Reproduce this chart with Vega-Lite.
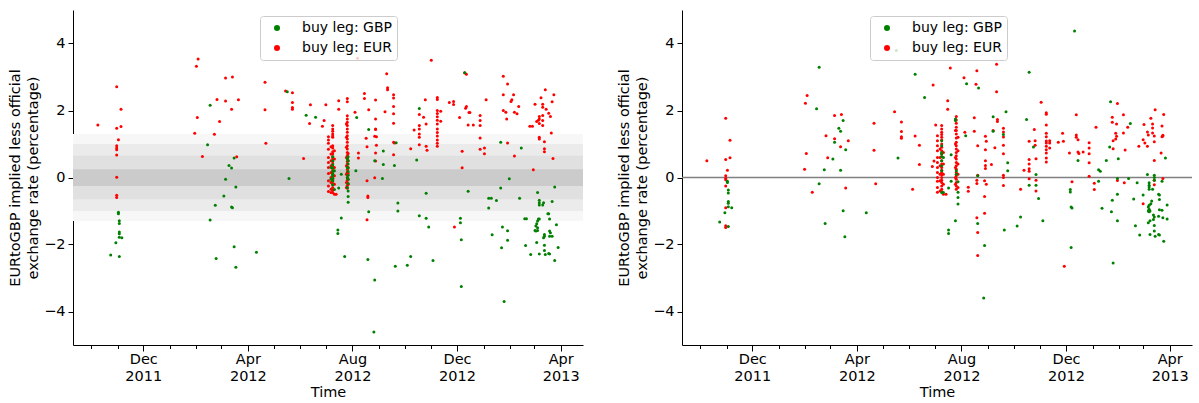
{
"$schema": "https://vega.github.io/schema/vega-lite/v6.json",
"padding": {"left": 7, "top": 10, "right": 4, "bottom": 0},
"background": "white",
"spacing": 33,
"config": {
  "view": {"stroke": null},
  "font": "DejaVu Sans",
  "axis": {"domainColor": "black", "tickColor": "black", "labelColor": "black", "titleColor": "black", "labelFontSize": 14.5, "titleFontSize": 14.5, "titleFontWeight": "normal", "labelFont": "DejaVu Sans", "titleFont": "DejaVu Sans", "domainWidth": 1, "tickWidth": 1, "grid": false},
  "legend": {"padding": 5, "symbolOffset": 5, "labelOffset": 18, "rowPadding": 6, "labelFontSize": 14, "labelFont": "DejaVu Sans", "labelColor": "black", "strokeColor": "#cccccc", "fillColor": "rgba(255,255,255,0.8)", "cornerRadius": 3, "symbolSize": 36, "symbolType": "circle", "symbolStrokeWidth": 0}
},
"resolve": {"scale": {"color": "independent"}, "legend": {"color": "independent"}},
"datasets": {
"left": [
{"t":"2011-10-09","v":1.57,"leg":"EUR"},{"t":"2011-10-31","v":2.71,"leg":"EUR"},{"t":"2011-11-05","v":2.04,"leg":"EUR"},{"t":"2011-10-31","v":1.47,"leg":"EUR"},{"t":"2011-11-05","v":1.52,"leg":"EUR"},{"t":"2011-11-02","v":1.13,"leg":"EUR"},{"t":"2011-10-31","v":0.95,"leg":"EUR"},{"t":"2011-10-31","v":0.88,"leg":"EUR"},{"t":"2011-10-31","v":0.83,"leg":"EUR"},{"t":"2011-10-31","v":0.67,"leg":"EUR"},{"t":"2011-10-31","v":0.01,"leg":"EUR"},{"t":"2011-10-31","v":-0.53,"leg":"EUR"},{"t":"2011-10-31","v":-0.6,"leg":"EUR"},
{"t":"2012-01-30","v":1.32,"leg":"EUR"},{"t":"2012-02-01","v":3.32,"leg":"EUR"},{"t":"2012-02-03","v":3.54,"leg":"EUR"},{"t":"2012-02-02","v":1.79,"leg":"EUR"},{"t":"2012-02-08","v":0.63,"leg":"EUR"},{"t":"2012-02-28","v":1.67,"leg":"EUR"},{"t":"2012-02-22","v":1.29,"leg":"EUR"},{"t":"2012-02-25","v":2.33,"leg":"EUR"},{"t":"2012-03-06","v":2.97,"leg":"EUR"},{"t":"2012-03-14","v":3.0,"leg":"EUR"},{"t":"2012-03-06","v":2.28,"leg":"EUR"},{"t":"2012-03-13","v":2.04,"leg":"EUR"},{"t":"2012-03-21","v":2.32,"leg":"EUR"},{"t":"2012-03-19","v":0.62,"leg":"EUR"},{"t":"2012-04-21","v":2.84,"leg":"EUR"},{"t":"2012-04-21","v":2.02,"leg":"EUR"},{"t":"2012-04-22","v":1.02,"leg":"EUR"},
{"t":"2012-05-15","v":2.58,"leg":"EUR"},{"t":"2012-05-23","v":2.53,"leg":"EUR"},{"t":"2012-05-23","v":2.24,"leg":"EUR"},{"t":"2012-05-23","v":2.09,"leg":"EUR"},{"t":"2012-05-23","v":2.04,"leg":"EUR"},{"t":"2012-06-13","v":2.17,"leg":"EUR"},{"t":"2012-06-12","v":1.61,"leg":"EUR"},{"t":"2012-06-05","v":0.57,"leg":"EUR"},{"t":"2012-07-01","v":2.17,"leg":"EUR"},{"t":"2012-06-29","v":1.7,"leg":"EUR"},{"t":"2012-06-27","v":1.53,"leg":"EUR"},
{"t":"2012-07-04","v":1.22,"leg":"EUR"},{"t":"2012-07-04","v":1.12,"leg":"EUR"},{"t":"2012-07-04","v":1.02,"leg":"EUR"},{"t":"2012-07-04","v":0.84,"leg":"EUR"},{"t":"2012-07-04","v":0.6,"leg":"EUR"},{"t":"2012-07-04","v":0.45,"leg":"EUR"},{"t":"2012-07-04","v":0.3,"leg":"EUR"},{"t":"2012-07-04","v":0.12,"leg":"EUR"},{"t":"2012-07-04","v":-0.1,"leg":"EUR"},{"t":"2012-07-04","v":-0.25,"leg":"EUR"},{"t":"2012-07-04","v":-0.42,"leg":"EUR"},
{"t":"2012-07-09","v":1.55,"leg":"EUR"},{"t":"2012-07-09","v":1.45,"leg":"EUR"},{"t":"2012-07-09","v":1.38,"leg":"EUR"},{"t":"2012-07-09","v":1.3,"leg":"EUR"},{"t":"2012-07-09","v":1.24,"leg":"EUR"},{"t":"2012-07-09","v":1.2,"leg":"EUR"},{"t":"2012-07-09","v":0.95,"leg":"EUR"},{"t":"2012-07-09","v":0.88,"leg":"EUR"},{"t":"2012-07-09","v":0.77,"leg":"EUR"},{"t":"2012-07-09","v":0.7,"leg":"EUR"},{"t":"2012-07-09","v":0.62,"leg":"EUR"},{"t":"2012-07-09","v":0.55,"leg":"EUR"},{"t":"2012-07-09","v":0.48,"leg":"EUR"},{"t":"2012-07-09","v":0.4,"leg":"EUR"},{"t":"2012-07-09","v":0.33,"leg":"EUR"},{"t":"2012-07-09","v":0.27,"leg":"EUR"},{"t":"2012-07-09","v":0.2,"leg":"EUR"},{"t":"2012-07-09","v":0.14,"leg":"EUR"},{"t":"2012-07-09","v":0.08,"leg":"EUR"},{"t":"2012-07-09","v":0.02,"leg":"EUR"},{"t":"2012-07-09","v":-0.05,"leg":"EUR"},{"t":"2012-07-09","v":-0.12,"leg":"EUR"},{"t":"2012-07-09","v":-0.2,"leg":"EUR"},{"t":"2012-07-09","v":-0.3,"leg":"EUR"},{"t":"2012-07-09","v":-0.38,"leg":"EUR"},{"t":"2012-07-09","v":-0.45,"leg":"EUR"},
{"t":"2012-07-07","v":0.92,"leg":"EUR"},{"t":"2012-07-07","v":0.7,"leg":"EUR"},{"t":"2012-07-07","v":0.5,"leg":"EUR"},{"t":"2012-07-07","v":0.35,"leg":"EUR"},{"t":"2012-07-07","v":0.15,"leg":"EUR"},{"t":"2012-07-07","v":0.0,"leg":"EUR"},{"t":"2012-07-07","v":-0.15,"leg":"EUR"},{"t":"2012-07-07","v":-0.35,"leg":"EUR"},{"t":"2012-07-07","v":-0.45,"leg":"EUR"},
{"t":"2012-07-11","v":0.8,"leg":"EUR"},{"t":"2012-07-11","v":0.55,"leg":"EUR"},{"t":"2012-07-11","v":0.3,"leg":"EUR"},{"t":"2012-07-11","v":0.05,"leg":"EUR"},{"t":"2012-07-11","v":-0.2,"leg":"EUR"},{"t":"2012-07-11","v":-0.5,"leg":"EUR"},{"t":"2012-07-13","v":-0.5,"leg":"EUR"},{"t":"2012-07-16","v":2.29,"leg":"EUR"},{"t":"2012-07-16","v":2.04,"leg":"EUR"},
{"t":"2012-07-26","v":2.36,"leg":"EUR"},{"t":"2012-07-26","v":2.26,"leg":"EUR"},{"t":"2012-07-26","v":1.84,"leg":"EUR"},{"t":"2012-07-26","v":1.75,"leg":"EUR"},{"t":"2012-07-26","v":1.65,"leg":"EUR"},{"t":"2012-07-26","v":1.55,"leg":"EUR"},{"t":"2012-07-26","v":1.45,"leg":"EUR"},{"t":"2012-07-26","v":1.35,"leg":"EUR"},{"t":"2012-07-26","v":1.25,"leg":"EUR"},{"t":"2012-07-26","v":1.15,"leg":"EUR"},{"t":"2012-07-26","v":1.05,"leg":"EUR"},{"t":"2012-07-26","v":0.95,"leg":"EUR"},{"t":"2012-07-26","v":0.85,"leg":"EUR"},{"t":"2012-07-26","v":0.75,"leg":"EUR"},{"t":"2012-07-26","v":0.66,"leg":"EUR"},{"t":"2012-07-26","v":0.57,"leg":"EUR"},{"t":"2012-07-26","v":0.48,"leg":"EUR"},{"t":"2012-07-26","v":0.4,"leg":"EUR"},{"t":"2012-07-26","v":0.32,"leg":"EUR"},{"t":"2012-07-26","v":0.24,"leg":"EUR"},{"t":"2012-07-26","v":0.16,"leg":"EUR"},{"t":"2012-07-26","v":0.08,"leg":"EUR"},{"t":"2012-07-26","v":0.0,"leg":"EUR"},{"t":"2012-07-26","v":-0.08,"leg":"EUR"},{"t":"2012-07-26","v":-0.16,"leg":"EUR"},{"t":"2012-07-26","v":-0.24,"leg":"EUR"},{"t":"2012-07-26","v":-0.32,"leg":"EUR"},
{"t":"2012-07-25","v":1.6,"leg":"EUR"},{"t":"2012-07-25","v":1.2,"leg":"EUR"},{"t":"2012-07-25","v":0.9,"leg":"EUR"},{"t":"2012-07-25","v":0.6,"leg":"EUR"},{"t":"2012-07-25","v":0.35,"leg":"EUR"},{"t":"2012-07-25","v":0.1,"leg":"EUR"},{"t":"2012-07-25","v":-0.15,"leg":"EUR"},{"t":"2012-07-25","v":-0.3,"leg":"EUR"},
{"t":"2012-07-27","v":0.72,"leg":"EUR"},{"t":"2012-07-27","v":0.5,"leg":"EUR"},{"t":"2012-07-27","v":0.3,"leg":"EUR"},{"t":"2012-07-27","v":0.12,"leg":"EUR"},{"t":"2012-07-27","v":-0.05,"leg":"EUR"},{"t":"2012-07-27","v":-0.2,"leg":"EUR"},
{"t":"2012-08-04","v":1.95,"leg":"EUR"},{"t":"2012-08-07","v":3.56,"leg":"EUR"},{"t":"2012-08-15","v":2.51,"leg":"EUR"},{"t":"2012-08-15","v":2.36,"leg":"EUR"},{"t":"2012-08-20","v":2.02,"leg":"EUR"},{"t":"2012-08-28","v":2.31,"leg":"EUR"},{"t":"2012-08-28","v":1.75,"leg":"EUR"},{"t":"2012-08-28","v":1.45,"leg":"EUR"},{"t":"2012-08-28","v":1.43,"leg":"EUR"},{"t":"2012-08-28","v":0.73,"leg":"EUR"},{"t":"2012-08-28","v":0.49,"leg":"EUR"},{"t":"2012-08-27","v":1.23,"leg":"EUR"},{"t":"2012-08-27","v":-0.01,"leg":"EUR"},{"t":"2012-08-17","v":1.17,"leg":"EUR"},{"t":"2012-08-18","v":0.92,"leg":"EUR"},{"t":"2012-08-18","v":-0.1,"leg":"EUR"},{"t":"2012-08-18","v":-1.26,"leg":"EUR"},{"t":"2012-08-08","v":0.73,"leg":"EUR"},{"t":"2012-08-08","v":0.58,"leg":"EUR"},{"t":"2012-08-19","v":-0.55,"leg":"EUR"},{"t":"2012-08-19","v":-0.6,"leg":"EUR"},{"t":"2012-08-29","v":1.22,"leg":"EUR"},{"t":"2012-08-29","v":0.96,"leg":"EUR"},
{"t":"2012-09-10","v":3.1,"leg":"EUR"},{"t":"2012-09-11","v":2.68,"leg":"EUR"},{"t":"2012-09-11","v":2.62,"leg":"EUR"},{"t":"2012-09-08","v":1.96,"leg":"EUR"},{"t":"2012-09-18","v":2.47,"leg":"EUR"},{"t":"2012-09-18","v":2.37,"leg":"EUR"},{"t":"2012-09-18","v":2.12,"leg":"EUR"},{"t":"2012-09-18","v":1.9,"leg":"EUR"},{"t":"2012-09-18","v":1.62,"leg":"EUR"},{"t":"2012-09-18","v":1.05,"leg":"EUR"},{"t":"2012-09-18","v":0.68,"leg":"EUR"},{"t":"2012-09-19","v":1.03,"leg":"EUR"},
{"t":"2012-10-08","v":0.86,"leg":"EUR"},{"t":"2012-10-12","v":1.42,"leg":"EUR"},{"t":"2012-10-18","v":1.55,"leg":"EUR"},{"t":"2012-10-18","v":1.45,"leg":"EUR"},{"t":"2012-10-18","v":1.3,"leg":"EUR"},{"t":"2012-10-18","v":1.2,"leg":"EUR"},{"t":"2012-10-18","v":0.98,"leg":"EUR"},{"t":"2012-10-18","v":1.88,"leg":"EUR"},{"t":"2012-10-25","v":2.32,"leg":"EUR"},{"t":"2012-10-23","v":1.8,"leg":"EUR"},{"t":"2012-10-26","v":1.6,"leg":"EUR"},{"t":"2012-10-26","v":0.93,"leg":"EUR"},{"t":"2012-10-27","v":0.81,"leg":"EUR"},
{"t":"2012-11-01","v":3.5,"leg":"EUR"},{"t":"2012-11-08","v":2.39,"leg":"EUR"},{"t":"2012-11-08","v":2.33,"leg":"EUR"},{"t":"2012-11-08","v":2.0,"leg":"EUR"},{"t":"2012-11-08","v":1.91,"leg":"EUR"},{"t":"2012-11-08","v":1.81,"leg":"EUR"},{"t":"2012-11-08","v":1.71,"leg":"EUR"},{"t":"2012-11-08","v":1.6,"leg":"EUR"},{"t":"2012-11-08","v":1.45,"leg":"EUR"},{"t":"2012-11-08","v":1.34,"leg":"EUR"},{"t":"2012-11-08","v":1.24,"leg":"EUR"},{"t":"2012-11-08","v":1.12,"leg":"EUR"},{"t":"2012-11-08","v":1.02,"leg":"EUR"},{"t":"2012-11-08","v":0.93,"leg":"EUR"},{"t":"2012-11-12","v":1.98,"leg":"EUR"},{"t":"2012-11-12","v":1.68,"leg":"EUR"},{"t":"2012-11-22","v":2.24,"leg":"EUR"},{"t":"2012-11-27","v":2.27,"leg":"EUR"},{"t":"2012-11-27","v":2.18,"leg":"EUR"},{"t":"2012-11-28","v":-1.48,"leg":"EUR"},
{"t":"2012-12-04","v":1.79,"leg":"EUR"},{"t":"2012-12-07","v":0.78,"leg":"EUR"},{"t":"2012-12-07","v":0.29,"leg":"EUR"},{"t":"2012-12-10","v":3.13,"leg":"EUR"},{"t":"2012-12-12","v":3.08,"leg":"EUR"},{"t":"2012-12-12","v":2.12,"leg":"EUR"},{"t":"2012-12-11","v":2.07,"leg":"EUR"},{"t":"2012-12-15","v":1.94,"leg":"EUR"},{"t":"2012-12-16","v":1.94,"leg":"EUR"},{"t":"2012-12-14","v":1.57,"leg":"EUR"},{"t":"2012-12-20","v":1.57,"leg":"EUR"},{"t":"2012-12-28","v":1.85,"leg":"EUR"},{"t":"2012-12-28","v":1.7,"leg":"EUR"},{"t":"2012-12-28","v":1.55,"leg":"EUR"},{"t":"2012-12-28","v":1.18,"leg":"EUR"},{"t":"2012-12-28","v":0.84,"leg":"EUR"},
{"t":"2013-01-02","v":0.88,"leg":"EUR"},{"t":"2013-01-02","v":0.71,"leg":"EUR"},{"t":"2013-01-04","v":2.32,"leg":"EUR"},{"t":"2013-01-24","v":3.02,"leg":"EUR"},{"t":"2013-01-24","v":2.47,"leg":"EUR"},{"t":"2013-01-24","v":2.0,"leg":"EUR"},{"t":"2013-01-29","v":2.79,"leg":"EUR"},{"t":"2013-01-29","v":1.03,"leg":"EUR"},{"t":"2013-02-02","v":2.27,"leg":"EUR"},{"t":"2013-02-03","v":2.32,"leg":"EUR"},{"t":"2013-02-05","v":2.47,"leg":"EUR"},{"t":"2013-01-27","v":1.95,"leg":"EUR"},{"t":"2013-01-28","v":1.75,"leg":"EUR"},{"t":"2013-02-11","v":2.12,"leg":"EUR"},{"t":"2013-02-06","v":1.95,"leg":"EUR"},{"t":"2013-02-06","v":0.64,"leg":"EUR"},{"t":"2013-02-09","v":1.9,"leg":"EUR"},{"t":"2013-02-28","v":0.23,"leg":"EUR"},{"t":"2013-02-24","v":1.53,"leg":"EUR"},
{"t":"2013-03-02","v":2.19,"leg":"EUR"},{"t":"2013-03-09","v":2.38,"leg":"EUR"},{"t":"2013-03-14","v":2.62,"leg":"EUR"},{"t":"2013-03-11","v":2.19,"leg":"EUR"},{"t":"2013-03-11","v":2.1,"leg":"EUR"},{"t":"2013-03-11","v":1.7,"leg":"EUR"},{"t":"2013-03-11","v":1.55,"leg":"EUR"},{"t":"2013-03-11","v":1.85,"leg":"EUR"},{"t":"2013-03-15","v":2.04,"leg":"EUR"},{"t":"2013-03-18","v":1.92,"leg":"EUR"},{"t":"2013-03-24","v":2.47,"leg":"EUR"},{"t":"2013-03-22","v":2.26,"leg":"EUR"},{"t":"2013-03-20","v":1.82,"leg":"EUR"},{"t":"2013-03-07","v":1.82,"leg":"EUR"},{"t":"2013-03-07","v":1.75,"leg":"EUR"},{"t":"2013-03-07","v":1.61,"leg":"EUR"},{"t":"2013-03-07","v":1.2,"leg":"EUR"},{"t":"2013-03-07","v":1.15,"leg":"EUR"},{"t":"2013-03-06","v":1.71,"leg":"EUR"},{"t":"2013-03-04","v":1.67,"leg":"EUR"},{"t":"2013-02-27","v":1.53,"leg":"EUR"},{"t":"2013-03-21","v":1.33,"leg":"EUR"},{"t":"2013-03-13","v":1.07,"leg":"EUR"},{"t":"2013-03-13","v":0.86,"leg":"EUR"},{"t":"2013-03-13","v":0.77,"leg":"EUR"},{"t":"2013-03-23","v":0.57,"leg":"EUR"},
{"t":"2011-11-02","v":-1.04,"leg":"GBP"},{"t":"2011-11-02","v":-1.08,"leg":"GBP"},{"t":"2011-11-03","v":-1.29,"leg":"GBP"},{"t":"2011-11-03","v":-1.37,"leg":"GBP"},{"t":"2011-11-03","v":-1.63,"leg":"GBP"},{"t":"2011-11-03","v":-1.68,"leg":"GBP"},{"t":"2011-11-03","v":-1.78,"leg":"GBP"},{"t":"2011-11-06","v":-1.8,"leg":"GBP"},{"t":"2011-10-30","v":-1.95,"leg":"GBP"},{"t":"2011-10-24","v":-2.31,"leg":"GBP"},{"t":"2011-11-03","v":-2.36,"leg":"GBP"},
{"t":"2012-02-17","v":2.16,"leg":"GBP"},{"t":"2012-02-14","v":0.98,"leg":"GBP"},{"t":"2012-03-10","v":0.36,"leg":"GBP"},{"t":"2012-03-13","v":0.28,"leg":"GBP"},{"t":"2012-03-16","v":0.58,"leg":"GBP"},{"t":"2012-03-06","v":-0.05,"leg":"GBP"},{"t":"2012-03-18","v":-0.28,"leg":"GBP"},{"t":"2012-03-04","v":-0.55,"leg":"GBP"},{"t":"2012-02-23","v":-0.83,"leg":"GBP"},{"t":"2012-03-13","v":-0.88,"leg":"GBP"},{"t":"2012-03-14","v":-0.9,"leg":"GBP"},{"t":"2012-02-17","v":-1.27,"leg":"GBP"},{"t":"2012-03-16","v":-2.07,"leg":"GBP"},{"t":"2012-02-24","v":-2.42,"leg":"GBP"},{"t":"2012-03-18","v":-2.68,"leg":"GBP"},{"t":"2012-04-11","v":-2.23,"leg":"GBP"},
{"t":"2012-05-17","v":2.56,"leg":"GBP"},{"t":"2012-05-19","v":-0.03,"leg":"GBP"},{"t":"2012-06-08","v":1.86,"leg":"GBP"},{"t":"2012-06-19","v":1.8,"leg":"GBP"},
{"t":"2012-07-09","v":0.62,"leg":"GBP"},{"t":"2012-07-09","v":0.5,"leg":"GBP"},{"t":"2012-07-09","v":0.38,"leg":"GBP"},{"t":"2012-07-09","v":0.28,"leg":"GBP"},{"t":"2012-07-09","v":0.18,"leg":"GBP"},{"t":"2012-07-09","v":0.1,"leg":"GBP"},{"t":"2012-07-09","v":0.05,"leg":"GBP"},{"t":"2012-07-09","v":-0.02,"leg":"GBP"},{"t":"2012-07-09","v":-0.1,"leg":"GBP"},{"t":"2012-07-09","v":-0.22,"leg":"GBP"},{"t":"2012-07-07","v":0.3,"leg":"GBP"},{"t":"2012-07-07","v":-0.05,"leg":"GBP"},{"t":"2012-07-11","v":0.2,"leg":"GBP"},{"t":"2012-07-11","v":-0.36,"leg":"GBP"},
{"t":"2012-07-16","v":-0.31,"leg":"GBP"},{"t":"2012-07-19","v":-1.21,"leg":"GBP"},{"t":"2012-07-19","v":0.1,"leg":"GBP"},{"t":"2012-07-15","v":-1.57,"leg":"GBP"},{"t":"2012-07-15","v":-1.67,"leg":"GBP"},{"t":"2012-07-23","v":-2.36,"leg":"GBP"},
{"t":"2012-07-27","v":0.62,"leg":"GBP"},{"t":"2012-07-27","v":0.5,"leg":"GBP"},{"t":"2012-07-27","v":0.4,"leg":"GBP"},{"t":"2012-07-27","v":0.28,"leg":"GBP"},{"t":"2012-07-27","v":0.18,"leg":"GBP"},{"t":"2012-07-27","v":0.07,"leg":"GBP"},{"t":"2012-07-27","v":-0.05,"leg":"GBP"},{"t":"2012-07-27","v":-0.18,"leg":"GBP"},{"t":"2012-07-27","v":-0.4,"leg":"GBP"},{"t":"2012-07-27","v":-0.57,"leg":"GBP"},{"t":"2012-07-27","v":-0.74,"leg":"GBP"},{"t":"2012-07-26","v":0.55,"leg":"GBP"},{"t":"2012-07-26","v":0.3,"leg":"GBP"},{"t":"2012-07-26","v":0.0,"leg":"GBP"},{"t":"2012-07-26","v":-0.3,"leg":"GBP"},
{"t":"2012-08-05","v":0.2,"leg":"GBP"},{"t":"2012-08-06","v":1.79,"leg":"GBP"},{"t":"2012-08-20","v":1.43,"leg":"GBP"},{"t":"2012-08-20","v":-1.02,"leg":"GBP"},{"t":"2012-09-06","v":0.79,"leg":"GBP"},{"t":"2012-09-06","v":0.39,"leg":"GBP"},{"t":"2012-08-27","v":0.5,"leg":"GBP"},{"t":"2012-08-27","v":-3.06,"leg":"GBP"},{"t":"2012-09-19","v":0.36,"leg":"GBP"},{"t":"2012-09-05","v":-0.03,"leg":"GBP"},{"t":"2012-09-21","v":1.04,"leg":"GBP"},{"t":"2012-10-15","v":0.52,"leg":"GBP"},{"t":"2012-10-18","v":2.06,"leg":"GBP"},{"t":"2012-10-18","v":-1.14,"leg":"GBP"},{"t":"2012-12-10","v":3.13,"leg":"GBP"},{"t":"2013-01-21","v":1.05,"leg":"GBP"},{"t":"2013-02-14","v":0.88,"leg":"GBP"},{"t":"2013-01-31","v":-0.04,"leg":"GBP"},
{"t":"2012-08-19","v":-2.45,"leg":"GBP"},{"t":"2012-08-26","v":-4.61,"leg":"GBP"},{"t":"2012-09-23","v":-0.76,"leg":"GBP"},{"t":"2012-09-23","v":-1.0,"leg":"GBP"},{"t":"2012-09-20","v":-2.65,"leg":"GBP"},{"t":"2012-10-04","v":-2.62,"leg":"GBP"},{"t":"2012-10-08","v":-2.36,"leg":"GBP"},{"t":"2012-10-26","v":-0.47,"leg":"GBP"},{"t":"2012-10-26","v":-1.22,"leg":"GBP"},{"t":"2012-10-29","v":-1.48,"leg":"GBP"},{"t":"2012-11-03","v":-2.48,"leg":"GBP"},{"t":"2012-12-14","v":-0.41,"leg":"GBP"},{"t":"2012-12-05","v":-1.22,"leg":"GBP"},{"t":"2012-12-05","v":-1.35,"leg":"GBP"},{"t":"2012-12-06","v":-1.86,"leg":"GBP"},{"t":"2012-12-06","v":-3.25,"leg":"GBP"},
{"t":"2013-01-07","v":-0.62,"leg":"GBP"},{"t":"2013-01-07","v":-0.91,"leg":"GBP"},{"t":"2013-01-10","v":-0.62,"leg":"GBP"},{"t":"2013-01-16","v":-0.69,"leg":"GBP"},{"t":"2013-01-21","v":-0.31,"leg":"GBP"},{"t":"2013-01-11","v":-1.71,"leg":"GBP"},{"t":"2013-01-23","v":-1.48,"leg":"GBP"},{"t":"2013-01-29","v":-1.59,"leg":"GBP"},{"t":"2013-01-29","v":-1.87,"leg":"GBP"},{"t":"2013-01-22","v":-2.1,"leg":"GBP"},{"t":"2013-01-25","v":-3.7,"leg":"GBP"},{"t":"2013-02-12","v":-0.62,"leg":"GBP"},{"t":"2013-02-19","v":-2.03,"leg":"GBP"},{"t":"2013-02-25","v":-2.3,"leg":"GBP"},{"t":"2013-02-18","v":-1.23,"leg":"GBP"},{"t":"2013-02-20","v":-1.23,"leg":"GBP"},{"t":"2013-03-05","v":-0.45,"leg":"GBP"},
{"t":"2013-03-07","v":-0.68,"leg":"GBP"},{"t":"2013-03-07","v":-0.75,"leg":"GBP"},{"t":"2013-03-07","v":-0.82,"leg":"GBP"},{"t":"2013-03-11","v":-0.82,"leg":"GBP"},{"t":"2013-03-12","v":-0.75,"leg":"GBP"},{"t":"2013-03-17","v":-1.08,"leg":"GBP"},{"t":"2013-03-18","v":-1.08,"leg":"GBP"},{"t":"2013-03-19","v":-1.24,"leg":"GBP"},{"t":"2013-03-07","v":-1.24,"leg":"GBP"},{"t":"2013-03-06","v":-1.24,"leg":"GBP"},{"t":"2013-03-05","v":-1.3,"leg":"GBP"},{"t":"2013-03-04","v":-1.38,"leg":"GBP"},{"t":"2013-03-03","v":-1.45,"leg":"GBP"},{"t":"2013-03-05","v":-1.5,"leg":"GBP"},{"t":"2013-03-02","v":-1.58,"leg":"GBP"},{"t":"2013-03-03","v":-1.6,"leg":"GBP"},{"t":"2013-03-05","v":-1.58,"leg":"GBP"},{"t":"2013-03-13","v":-1.7,"leg":"GBP"},{"t":"2013-03-13","v":-1.75,"leg":"GBP"},{"t":"2013-03-12","v":-1.8,"leg":"GBP"},{"t":"2013-03-19","v":-1.6,"leg":"GBP"},{"t":"2013-03-20","v":-1.65,"leg":"GBP"},{"t":"2013-03-19","v":-1.75,"leg":"GBP"},{"t":"2013-03-22","v":-1.75,"leg":"GBP"},{"t":"2013-03-04","v":-1.94,"leg":"GBP"},{"t":"2013-03-13","v":-2.02,"leg":"GBP"},{"t":"2013-03-13","v":-2.18,"leg":"GBP"},{"t":"2013-03-07","v":-2.28,"leg":"GBP"},{"t":"2013-03-14","v":-2.3,"leg":"GBP"},{"t":"2013-03-18","v":-2.27,"leg":"GBP"},{"t":"2013-03-19","v":-2.28,"leg":"GBP"},{"t":"2013-03-25","v":-2.48,"leg":"GBP"},{"t":"2013-03-29","v":-2.09,"leg":"GBP"},{"t":"2013-03-27","v":-1.41,"leg":"GBP"},{"t":"2013-03-22","v":-0.72,"leg":"GBP"},{"t":"2013-03-25","v":-0.28,"leg":"GBP"}
],
"right": [
{"t":"2011-10-09","v":0.5,"leg":"EUR"},{"t":"2011-10-31","v":1.77,"leg":"EUR"},{"t":"2011-11-05","v":1.11,"leg":"EUR"},{"t":"2011-10-31","v":0.54,"leg":"EUR"},{"t":"2011-11-05","v":0.59,"leg":"EUR"},{"t":"2011-11-02","v":0.22,"leg":"EUR"},{"t":"2011-10-31","v":0.05,"leg":"EUR"},{"t":"2011-10-31","v":-0.03,"leg":"EUR"},{"t":"2011-10-31","v":-0.07,"leg":"EUR"},{"t":"2011-10-31","v":-0.25,"leg":"EUR"},{"t":"2011-10-31","v":-0.9,"leg":"EUR"},{"t":"2011-10-31","v":-1.44,"leg":"EUR"},{"t":"2011-10-31","v":-1.49,"leg":"EUR"},
{"t":"2012-01-31","v":0.25,"leg":"EUR"},{"t":"2012-02-01","v":2.22,"leg":"EUR"},{"t":"2012-02-03","v":2.45,"leg":"EUR"},{"t":"2012-02-02","v":0.72,"leg":"EUR"},{"t":"2012-02-25","v":1.25,"leg":"EUR"},{"t":"2012-02-27","v":0.59,"leg":"EUR"},{"t":"2012-03-06","v":1.85,"leg":"EUR"},{"t":"2012-03-14","v":1.88,"leg":"EUR"},{"t":"2012-03-06","v":1.16,"leg":"EUR"},{"t":"2012-03-13","v":0.92,"leg":"EUR"},{"t":"2012-03-22","v":1.1,"leg":"EUR"},{"t":"2012-02-09","v":-0.44,"leg":"EUR"},{"t":"2012-03-19","v":-0.31,"leg":"EUR"},{"t":"2012-04-23","v":-0.19,"leg":"EUR"},{"t":"2012-04-21","v":1.62,"leg":"EUR"},{"t":"2012-04-21","v":0.81,"leg":"EUR"},
{"t":"2012-05-15","v":1.96,"leg":"EUR"},{"t":"2012-05-23","v":1.66,"leg":"EUR"},{"t":"2012-05-23","v":1.37,"leg":"EUR"},{"t":"2012-05-23","v":1.22,"leg":"EUR"},{"t":"2012-05-23","v":1.17,"leg":"EUR"},{"t":"2012-06-29","v":2.76,"leg":"EUR"},{"t":"2012-06-08","v":1.24,"leg":"EUR"},{"t":"2012-06-13","v":0.96,"leg":"EUR"},{"t":"2012-06-13","v":0.39,"leg":"EUR"},{"t":"2012-06-28","v":0.33,"leg":"EUR"},{"t":"2012-06-30","v":0.49,"leg":"EUR"},{"t":"2012-07-02","v":1.57,"leg":"EUR"},{"t":"2012-06-05","v":-0.35,"leg":"EUR"},
{"t":"2012-07-04","v":1.25,"leg":"EUR"},{"t":"2012-07-04","v":1.1,"leg":"EUR"},{"t":"2012-07-04","v":0.95,"leg":"EUR"},{"t":"2012-07-04","v":0.8,"leg":"EUR"},{"t":"2012-07-04","v":0.6,"leg":"EUR"},{"t":"2012-07-04","v":0.45,"leg":"EUR"},{"t":"2012-07-04","v":0.3,"leg":"EUR"},{"t":"2012-07-04","v":0.15,"leg":"EUR"},{"t":"2012-07-04","v":0.0,"leg":"EUR"},{"t":"2012-07-04","v":-0.11,"leg":"EUR"},{"t":"2012-07-04","v":-0.3,"leg":"EUR"},{"t":"2012-07-04","v":-0.44,"leg":"EUR"},
{"t":"2012-07-09","v":1.55,"leg":"EUR"},{"t":"2012-07-09","v":1.45,"leg":"EUR"},{"t":"2012-07-09","v":1.35,"leg":"EUR"},{"t":"2012-07-09","v":1.28,"leg":"EUR"},{"t":"2012-07-09","v":1.2,"leg":"EUR"},{"t":"2012-07-09","v":1.12,"leg":"EUR"},{"t":"2012-07-09","v":1.0,"leg":"EUR"},{"t":"2012-07-09","v":0.9,"leg":"EUR"},{"t":"2012-07-09","v":0.8,"leg":"EUR"},{"t":"2012-07-09","v":0.7,"leg":"EUR"},{"t":"2012-07-09","v":0.62,"leg":"EUR"},{"t":"2012-07-09","v":0.5,"leg":"EUR"},{"t":"2012-07-09","v":0.4,"leg":"EUR"},{"t":"2012-07-09","v":0.3,"leg":"EUR"},{"t":"2012-07-09","v":0.22,"leg":"EUR"},{"t":"2012-07-09","v":0.15,"leg":"EUR"},{"t":"2012-07-09","v":0.08,"leg":"EUR"},{"t":"2012-07-09","v":0.0,"leg":"EUR"},{"t":"2012-07-09","v":-0.08,"leg":"EUR"},{"t":"2012-07-09","v":-0.15,"leg":"EUR"},{"t":"2012-07-09","v":-0.25,"leg":"EUR"},{"t":"2012-07-09","v":-0.35,"leg":"EUR"},{"t":"2012-07-09","v":-0.42,"leg":"EUR"},
{"t":"2012-07-07","v":0.85,"leg":"EUR"},{"t":"2012-07-07","v":0.6,"leg":"EUR"},{"t":"2012-07-07","v":0.35,"leg":"EUR"},{"t":"2012-07-07","v":0.1,"leg":"EUR"},{"t":"2012-07-07","v":-0.1,"leg":"EUR"},{"t":"2012-07-07","v":-0.4,"leg":"EUR"},
{"t":"2012-07-11","v":0.75,"leg":"EUR"},{"t":"2012-07-11","v":0.4,"leg":"EUR"},{"t":"2012-07-11","v":0.1,"leg":"EUR"},{"t":"2012-07-11","v":-0.2,"leg":"EUR"},{"t":"2012-07-11","v":-0.5,"leg":"EUR"},
{"t":"2012-07-26","v":1.82,"leg":"EUR"},{"t":"2012-07-26","v":1.72,"leg":"EUR"},{"t":"2012-07-26","v":1.62,"leg":"EUR"},{"t":"2012-07-26","v":1.5,"leg":"EUR"},{"t":"2012-07-26","v":1.4,"leg":"EUR"},{"t":"2012-07-26","v":1.3,"leg":"EUR"},{"t":"2012-07-26","v":1.18,"leg":"EUR"},{"t":"2012-07-26","v":1.05,"leg":"EUR"},{"t":"2012-07-26","v":0.95,"leg":"EUR"},{"t":"2012-07-26","v":0.85,"leg":"EUR"},{"t":"2012-07-26","v":0.75,"leg":"EUR"},{"t":"2012-07-26","v":0.65,"leg":"EUR"},{"t":"2012-07-26","v":0.55,"leg":"EUR"},{"t":"2012-07-26","v":0.45,"leg":"EUR"},{"t":"2012-07-26","v":0.35,"leg":"EUR"},{"t":"2012-07-26","v":0.25,"leg":"EUR"},{"t":"2012-07-26","v":0.15,"leg":"EUR"},{"t":"2012-07-26","v":0.05,"leg":"EUR"},{"t":"2012-07-26","v":-0.05,"leg":"EUR"},{"t":"2012-07-26","v":-0.15,"leg":"EUR"},{"t":"2012-07-26","v":-0.25,"leg":"EUR"},{"t":"2012-07-26","v":-0.35,"leg":"EUR"},
{"t":"2012-07-25","v":1.4,"leg":"EUR"},{"t":"2012-07-25","v":1.0,"leg":"EUR"},{"t":"2012-07-25","v":0.6,"leg":"EUR"},{"t":"2012-07-25","v":0.3,"leg":"EUR"},{"t":"2012-07-25","v":0.0,"leg":"EUR"},{"t":"2012-07-25","v":-0.2,"leg":"EUR"},
{"t":"2012-07-28","v":1.2,"leg":"EUR"},{"t":"2012-07-28","v":0.8,"leg":"EUR"},{"t":"2012-07-28","v":0.4,"leg":"EUR"},{"t":"2012-07-28","v":0.1,"leg":"EUR"},{"t":"2012-07-28","v":-0.3,"leg":"EUR"},
{"t":"2012-07-14","v":-0.5,"leg":"EUR"},{"t":"2012-07-19","v":3.27,"leg":"EUR"},{"t":"2012-07-16","v":2.29,"leg":"EUR"},{"t":"2012-07-16","v":2.04,"leg":"EUR"},
{"t":"2012-08-05","v":1.35,"leg":"EUR"},{"t":"2012-08-16","v":1.78,"leg":"EUR"},{"t":"2012-08-16","v":1.38,"leg":"EUR"},{"t":"2012-08-20","v":0.95,"leg":"EUR"},{"t":"2012-08-29","v":1.23,"leg":"EUR"},{"t":"2012-08-30","v":1.08,"leg":"EUR"},{"t":"2012-08-29","v":0.83,"leg":"EUR"},{"t":"2012-08-29","v":0.5,"leg":"EUR"},{"t":"2012-08-29","v":0.36,"leg":"EUR"},{"t":"2012-08-29","v":0.27,"leg":"EUR"},{"t":"2012-08-04","v":2.98,"leg":"EUR"},{"t":"2012-08-19","v":3.19,"leg":"EUR"},{"t":"2012-08-18","v":2.78,"leg":"EUR"},{"t":"2012-09-11","v":3.38,"leg":"EUR"},{"t":"2012-09-11","v":2.56,"leg":"EUR"},{"t":"2012-09-12","v":1.73,"leg":"EUR"},{"t":"2012-09-12","v":1.67,"leg":"EUR"},{"t":"2012-09-07","v":1.4,"leg":"EUR"},{"t":"2012-09-09","v":0.89,"leg":"EUR"},{"t":"2012-09-19","v":1.47,"leg":"EUR"},{"t":"2012-09-19","v":1.36,"leg":"EUR"},{"t":"2012-09-19","v":1.21,"leg":"EUR"},{"t":"2012-09-19","v":0.96,"leg":"EUR"},{"t":"2012-09-19","v":0.71,"leg":"EUR"},{"t":"2012-09-19","v":0.07,"leg":"EUR"},{"t":"2012-09-19","v":0.0,"leg":"EUR"},{"t":"2012-09-05","v":0.39,"leg":"EUR"},{"t":"2012-08-20","v":0.07,"leg":"EUR"},{"t":"2012-08-09","v":-0.29,"leg":"EUR"},{"t":"2012-08-09","v":-0.41,"leg":"EUR"},{"t":"2012-08-19","v":-0.18,"leg":"EUR"},{"t":"2012-08-28","v":-0.1,"leg":"EUR"},{"t":"2012-08-30","v":-0.2,"leg":"EUR"},{"t":"2012-08-28","v":-0.57,"leg":"EUR"},{"t":"2012-08-28","v":-1.07,"leg":"EUR"},{"t":"2012-08-19","v":-1.2,"leg":"EUR"},{"t":"2012-08-20","v":-1.64,"leg":"EUR"},{"t":"2012-08-20","v":-2.33,"leg":"EUR"},{"t":"2012-09-19","v":-0.24,"leg":"EUR"},{"t":"2012-08-19","v":-0.08,"leg":"EUR"},
{"t":"2012-11-02","v":2.25,"leg":"EUR"},{"t":"2012-10-25","v":1.43,"leg":"EUR"},{"t":"2012-10-26","v":1.1,"leg":"EUR"},{"t":"2012-10-26","v":0.96,"leg":"EUR"},{"t":"2012-10-19","v":1.08,"leg":"EUR"},{"t":"2012-10-27","v":0.56,"leg":"EUR"},{"t":"2012-10-13","v":0.22,"leg":"EUR"},{"t":"2012-10-19","v":0.54,"leg":"EUR"},{"t":"2012-10-19","v":0.4,"leg":"EUR"},{"t":"2012-10-19","v":0.26,"leg":"EUR"},{"t":"2012-10-19","v":0.19,"leg":"EUR"},{"t":"2012-10-19","v":-0.04,"leg":"EUR"},{"t":"2012-10-27","v":-0.08,"leg":"EUR"},{"t":"2012-10-27","v":-0.4,"leg":"EUR"},{"t":"2012-10-09","v":-0.35,"leg":"EUR"},
{"t":"2012-11-08","v":1.93,"leg":"EUR"},{"t":"2012-11-08","v":1.89,"leg":"EUR"},{"t":"2012-11-08","v":1.57,"leg":"EUR"},{"t":"2012-11-08","v":1.32,"leg":"EUR"},{"t":"2012-11-08","v":1.22,"leg":"EUR"},{"t":"2012-11-08","v":1.09,"leg":"EUR"},{"t":"2012-11-08","v":1.03,"leg":"EUR"},{"t":"2012-11-08","v":0.93,"leg":"EUR"},{"t":"2012-11-08","v":0.83,"leg":"EUR"},{"t":"2012-11-08","v":0.73,"leg":"EUR"},{"t":"2012-11-08","v":0.58,"leg":"EUR"},{"t":"2012-11-08","v":0.46,"leg":"EUR"},{"t":"2012-11-12","v":1.1,"leg":"EUR"},{"t":"2012-11-12","v":1.03,"leg":"EUR"},{"t":"2012-11-12","v":0.88,"leg":"EUR"},{"t":"2012-11-22","v":1.05,"leg":"EUR"},{"t":"2012-11-28","v":1.08,"leg":"EUR"},{"t":"2012-11-27","v":1.32,"leg":"EUR"},{"t":"2012-11-29","v":-2.65,"leg":"EUR"},
{"t":"2012-12-05","v":0.73,"leg":"EUR"},{"t":"2012-12-13","v":1.87,"leg":"EUR"},{"t":"2012-12-13","v":1.27,"leg":"EUR"},{"t":"2012-12-13","v":1.2,"leg":"EUR"},{"t":"2012-12-15","v":1.13,"leg":"EUR"},{"t":"2012-12-15","v":0.76,"leg":"EUR"},{"t":"2012-12-16","v":0.72,"leg":"EUR"},{"t":"2012-12-21","v":0.76,"leg":"EUR"},{"t":"2012-12-28","v":1.04,"leg":"EUR"},{"t":"2012-12-28","v":0.88,"leg":"EUR"},{"t":"2012-12-28","v":0.71,"leg":"EUR"},{"t":"2012-12-28","v":0.44,"leg":"EUR"},{"t":"2013-01-05","v":1.5,"leg":"EUR"},{"t":"2012-12-08","v":-0.13,"leg":"EUR"},{"t":"2012-12-28","v":0.04,"leg":"EUR"},{"t":"2013-01-03","v":-0.17,"leg":"EUR"},{"t":"2013-01-03","v":-0.36,"leg":"EUR"},{"t":"2013-01-30","v":2.21,"leg":"EUR"},{"t":"2013-01-24","v":1.8,"leg":"EUR"},{"t":"2013-01-24","v":1.65,"leg":"EUR"},{"t":"2013-01-29","v":1.6,"leg":"EUR"},{"t":"2013-01-28","v":1.32,"leg":"EUR"},{"t":"2013-01-29","v":1.23,"leg":"EUR"},{"t":"2013-01-28","v":1.15,"leg":"EUR"},{"t":"2013-01-25","v":1.1,"leg":"EUR"},{"t":"2013-01-25","v":0.86,"leg":"EUR"},{"t":"2013-01-30","v":-0.09,"leg":"EUR"},
{"t":"2013-02-06","v":1.87,"leg":"EUR"},{"t":"2013-02-06","v":1.33,"leg":"EUR"},{"t":"2013-02-11","v":1.5,"leg":"EUR"},{"t":"2013-02-08","v":0.82,"leg":"EUR"},{"t":"2013-02-07","v":-0.16,"leg":"EUR"},{"t":"2013-03-02","v":1.58,"leg":"EUR"},{"t":"2013-02-24","v":0.93,"leg":"EUR"},{"t":"2013-03-01","v":1.13,"leg":"EUR"},{"t":"2013-03-03","v":1.03,"leg":"EUR"},{"t":"2013-03-10","v":1.77,"leg":"EUR"},{"t":"2013-03-12","v":1.6,"leg":"EUR"},{"t":"2013-03-12","v":1.48,"leg":"EUR"},{"t":"2013-03-12","v":1.33,"leg":"EUR"},{"t":"2013-03-06","v":1.36,"leg":"EUR"},{"t":"2013-03-07","v":1.27,"leg":"EUR"},{"t":"2013-03-15","v":2.02,"leg":"EUR"},{"t":"2013-03-14","v":1.24,"leg":"EUR"},{"t":"2013-03-14","v":1.07,"leg":"EUR"},{"t":"2013-03-06","v":0.93,"leg":"EUR"},{"t":"2013-03-23","v":1.54,"leg":"EUR"},{"t":"2013-03-23","v":1.22,"leg":"EUR"},{"t":"2013-03-24","v":1.24,"leg":"EUR"},{"t":"2013-03-24","v":1.26,"leg":"EUR"},{"t":"2013-03-25","v":1.88,"leg":"EUR"},{"t":"2013-03-22","v":0.73,"leg":"EUR"},{"t":"2013-03-14","v":0.51,"leg":"EUR"},{"t":"2013-03-24","v":-0.03,"leg":"EUR"},{"t":"2013-03-01","v":-0.78,"leg":"EUR"},{"t":"2013-03-14","v":-0.08,"leg":"EUR"},{"t":"2013-03-14","v":-0.22,"leg":"EUR"},
{"t":"2011-11-02","v":-0.11,"leg":"GBP"},{"t":"2011-11-02","v":-0.15,"leg":"GBP"},{"t":"2011-11-03","v":-0.37,"leg":"GBP"},{"t":"2011-11-03","v":-0.46,"leg":"GBP"},{"t":"2011-11-03","v":-0.72,"leg":"GBP"},{"t":"2011-11-03","v":-0.77,"leg":"GBP"},{"t":"2011-11-03","v":-0.87,"leg":"GBP"},{"t":"2011-11-07","v":-0.9,"leg":"GBP"},{"t":"2011-10-30","v":-1.05,"leg":"GBP"},{"t":"2011-10-24","v":-1.33,"leg":"GBP"},{"t":"2011-11-03","v":-1.46,"leg":"GBP"},
{"t":"2012-02-17","v":3.29,"leg":"GBP"},{"t":"2012-02-14","v":2.05,"leg":"GBP"},{"t":"2012-02-23","v":0.23,"leg":"GBP"},{"t":"2012-03-16","v":1.7,"leg":"GBP"},{"t":"2012-03-11","v":1.47,"leg":"GBP"},{"t":"2012-03-13","v":1.38,"leg":"GBP"},{"t":"2012-03-06","v":1.05,"leg":"GBP"},{"t":"2012-03-19","v":0.83,"leg":"GBP"},{"t":"2012-03-04","v":0.55,"leg":"GBP"},{"t":"2012-03-13","v":0.22,"leg":"GBP"},{"t":"2012-02-17","v":-0.19,"leg":"GBP"},{"t":"2012-02-24","v":-1.37,"leg":"GBP"},{"t":"2012-03-16","v":-0.99,"leg":"GBP"},{"t":"2012-03-18","v":-1.77,"leg":"GBP"},{"t":"2012-04-12","v":-1.05,"leg":"GBP"},
{"t":"2012-05-19","v":0.58,"leg":"GBP"},{"t":"2012-05-17","v":3.79,"leg":"GBP"},{"t":"2012-06-08","v":3.08,"leg":"GBP"},{"t":"2012-06-19","v":2.39,"leg":"GBP"},
{"t":"2012-07-09","v":1.1,"leg":"GBP"},{"t":"2012-07-09","v":0.95,"leg":"GBP"},{"t":"2012-07-09","v":0.75,"leg":"GBP"},{"t":"2012-07-09","v":0.7,"leg":"GBP"},{"t":"2012-07-09","v":0.62,"leg":"GBP"},{"t":"2012-07-09","v":0.5,"leg":"GBP"},{"t":"2012-07-09","v":0.35,"leg":"GBP"},{"t":"2012-07-09","v":0.2,"leg":"GBP"},{"t":"2012-07-09","v":-0.45,"leg":"GBP"},{"t":"2012-07-11","v":0.6,"leg":"GBP"},{"t":"2012-07-11","v":-0.45,"leg":"GBP"},
{"t":"2012-07-25","v":1.75,"leg":"GBP"},{"t":"2012-07-25","v":1.7,"leg":"GBP"},{"t":"2012-07-26","v":0.2,"leg":"GBP"},{"t":"2012-07-26","v":0.1,"leg":"GBP"},{"t":"2012-07-28","v":-0.13,"leg":"GBP"},{"t":"2012-07-28","v":-0.44,"leg":"GBP"},{"t":"2012-07-28","v":-0.6,"leg":"GBP"},{"t":"2012-07-28","v":-0.79,"leg":"GBP"},{"t":"2012-07-25","v":-1.29,"leg":"GBP"},
{"t":"2012-07-17","v":-0.31,"leg":"GBP"},{"t":"2012-07-17","v":-1.57,"leg":"GBP"},{"t":"2012-07-17","v":-1.67,"leg":"GBP"},{"t":"2012-07-20","v":-0.11,"leg":"GBP"},{"t":"2012-07-20","v":0.68,"leg":"GBP"},
{"t":"2012-08-06","v":1.25,"leg":"GBP"},{"t":"2012-08-07","v":2.8,"leg":"GBP"},{"t":"2012-08-21","v":2.67,"leg":"GBP"},{"t":"2012-09-07","v":1.81,"leg":"GBP"},{"t":"2012-09-07","v":1.38,"leg":"GBP"},{"t":"2012-09-22","v":1.96,"leg":"GBP"},{"t":"2012-09-19","v":1.28,"leg":"GBP"},{"t":"2012-09-24","v":0.44,"leg":"GBP"},{"t":"2012-09-24","v":0.2,"leg":"GBP"},{"t":"2012-08-20","v":0.05,"leg":"GBP"},{"t":"2012-08-20","v":-1.37,"leg":"GBP"},{"t":"2012-08-28","v":-2.03,"leg":"GBP"},{"t":"2012-08-27","v":-3.6,"leg":"GBP"},{"t":"2012-09-20","v":-1.57,"leg":"GBP"},
{"t":"2012-10-19","v":3.14,"leg":"GBP"},{"t":"2012-10-16","v":1.73,"leg":"GBP"},{"t":"2012-10-24","v":0.91,"leg":"GBP"},{"t":"2012-10-27","v":0.09,"leg":"GBP"},{"t":"2012-10-19","v":-0.23,"leg":"GBP"},{"t":"2012-10-27","v":-0.23,"leg":"GBP"},{"t":"2012-10-30","v":-0.63,"leg":"GBP"},{"t":"2012-11-04","v":-1.29,"leg":"GBP"},{"t":"2012-10-09","v":-1.18,"leg":"GBP"},{"t":"2012-10-05","v":-1.45,"leg":"GBP"},
{"t":"2012-12-11","v":4.37,"leg":"GBP"},{"t":"2012-12-15","v":0.51,"leg":"GBP"},{"t":"2013-01-08","v":0.23,"leg":"GBP"},{"t":"2013-01-10","v":0.19,"leg":"GBP"},{"t":"2013-01-17","v":0.51,"leg":"GBP"},{"t":"2013-01-22","v":2.26,"leg":"GBP"},{"t":"2013-01-21","v":0.91,"leg":"GBP"},{"t":"2013-01-31","v":0.56,"leg":"GBP"},{"t":"2013-01-30","v":-0.03,"leg":"GBP"},{"t":"2012-12-06","v":-0.36,"leg":"GBP"},{"t":"2012-12-06","v":-0.43,"leg":"GBP"},{"t":"2012-12-07","v":-0.88,"leg":"GBP"},{"t":"2012-12-08","v":-0.91,"leg":"GBP"},{"t":"2012-12-07","v":-2.09,"leg":"GBP"},{"t":"2013-01-08","v":-0.11,"leg":"GBP"},{"t":"2013-01-12","v":-0.92,"leg":"GBP"},{"t":"2013-01-23","v":-1.02,"leg":"GBP"},{"t":"2013-01-24","v":-0.68,"leg":"GBP"},{"t":"2013-01-30","v":-0.5,"leg":"GBP"},{"t":"2013-01-30","v":-1.29,"leg":"GBP"},{"t":"2013-01-25","v":-2.55,"leg":"GBP"},
{"t":"2013-02-14","v":1.61,"leg":"GBP"},{"t":"2013-02-12","v":-0.03,"leg":"GBP"},{"t":"2013-02-22","v":-0.16,"leg":"GBP"},{"t":"2013-02-18","v":-0.64,"leg":"GBP"},{"t":"2013-02-20","v":-1.44,"leg":"GBP"},{"t":"2013-02-25","v":-1.72,"leg":"GBP"},{"t":"2013-03-01","v":-0.52,"leg":"GBP"},{"t":"2013-03-06","v":0.09,"leg":"GBP"},{"t":"2013-03-14","v":0.07,"leg":"GBP"},{"t":"2013-03-27","v":0.58,"leg":"GBP"},
{"t":"2013-03-08","v":-0.16,"leg":"GBP"},{"t":"2013-03-08","v":-0.23,"leg":"GBP"},{"t":"2013-03-08","v":-0.28,"leg":"GBP"},{"t":"2013-03-08","v":-0.35,"leg":"GBP"},{"t":"2013-03-12","v":-0.35,"leg":"GBP"},{"t":"2013-03-14","v":0.0,"leg":"GBP"},{"t":"2013-03-14","v":-0.08,"leg":"GBP"},{"t":"2013-03-23","v":-0.11,"leg":"GBP"},{"t":"2013-03-11","v":-0.7,"leg":"GBP"},{"t":"2013-03-10","v":-0.78,"leg":"GBP"},{"t":"2013-03-08","v":-0.83,"leg":"GBP"},{"t":"2013-03-07","v":-0.88,"leg":"GBP"},{"t":"2013-03-08","v":-0.95,"leg":"GBP"},{"t":"2013-03-07","v":-1.0,"leg":"GBP"},{"t":"2013-03-08","v":-1.02,"leg":"GBP"},{"t":"2013-03-09","v":-1.0,"leg":"GBP"},{"t":"2013-03-19","v":-0.5,"leg":"GBP"},{"t":"2013-03-20","v":-0.52,"leg":"GBP"},{"t":"2013-03-20","v":-0.66,"leg":"GBP"},{"t":"2013-03-29","v":-0.82,"leg":"GBP"},{"t":"2013-03-20","v":-0.96,"leg":"GBP"},{"t":"2013-03-23","v":-0.98,"leg":"GBP"},{"t":"2013-03-13","v":-1.12,"leg":"GBP"},{"t":"2013-03-14","v":-1.18,"leg":"GBP"},{"t":"2013-03-13","v":-1.25,"leg":"GBP"},{"t":"2013-03-19","v":-1.16,"leg":"GBP"},{"t":"2013-03-24","v":-1.2,"leg":"GBP"},{"t":"2013-03-29","v":-1.24,"leg":"GBP"},{"t":"2013-03-07","v":-1.35,"leg":"GBP"},{"t":"2013-03-09","v":-1.29,"leg":"GBP"},{"t":"2013-03-14","v":-1.43,"leg":"GBP"},{"t":"2013-03-14","v":-1.6,"leg":"GBP"},{"t":"2013-03-09","v":-1.7,"leg":"GBP"},{"t":"2013-03-15","v":-1.75,"leg":"GBP"},{"t":"2013-03-19","v":-1.7,"leg":"GBP"},{"t":"2013-03-20","v":-1.72,"leg":"GBP"},{"t":"2013-03-25","v":-1.9,"leg":"GBP"}
]
},
"hconcat": [
{
  "width": 510, "height": 335,
  "encoding": {"y": {"field": "v", "type": "quantitative", "scale": {"domain": [-5, 5], "nice": false, "zero": false}, "axis": {"values": [-4, -2, 0, 2, 4], "title": ["EURtoGBP implied less official", "exchange rate (percentage)"], "titleLineHeight": 18, "labelExpr": "datum.value < 0 ? '\u2212' + abs(datum.value) : '' + datum.value", "tickSize": 5, "labelPadding": 3, "titlePadding": 3}}},
  "layer": [
    {"data": {"values": [{"v": -1.3, "v2": 1.3}]}, "mark": {"type": "rect", "color": "#f7f7f7"}, "encoding": {"y2": {"field": "v2"}}},
    {"data": {"values": [{"v": -1.0, "v2": 1.0}]}, "mark": {"type": "rect", "color": "#ebebeb"}, "encoding": {"y2": {"field": "v2"}}},
    {"data": {"values": [{"v": -0.65, "v2": 0.65}]}, "mark": {"type": "rect", "color": "#e0e0e0"}, "encoding": {"y2": {"field": "v2"}}},
    {"data": {"values": [{"v": -0.25, "v2": 0.25}]}, "mark": {"type": "rect", "color": "#cbcbcb"}, "encoding": {"y2": {"field": "v2"}}},
    {"data": {"name": "left", "format": {"parse": {"t": "date:'%Y-%m-%d'"}}},
     "mark": {"type": "circle", "size": 9, "opacity": 1},
     "encoding": {
       "x": {"field": "t", "type": "temporal", "scale": {"domain": [{"year": 2011, "month": 9, "date": 10}, {"year": 2013, "month": 4, "date": 27}], "nice": false},
             "axis": {"title": "Time", "values": [{"year":2011,"month":10,"date":1},{"year":2011,"month":11,"date":1},{"year":2011,"month":12,"date":1},{"year":2012,"month":1,"date":1},{"year":2012,"month":2,"date":1},{"year":2012,"month":3,"date":1},{"year":2012,"month":4,"date":1},{"year":2012,"month":5,"date":1},{"year":2012,"month":6,"date":1},{"year":2012,"month":7,"date":1},{"year":2012,"month":8,"date":1},{"year":2012,"month":9,"date":1},{"year":2012,"month":10,"date":1},{"year":2012,"month":11,"date":1},{"year":2012,"month":12,"date":1},{"year":2013,"month":1,"date":1},{"year":2013,"month":2,"date":1},{"year":2013,"month":3,"date":1},{"year":2013,"month":4,"date":1}],
                      "labelExpr": "month(datum.value) % 4 == 3 ? [timeFormat(datum.value, '%b'), timeFormat(datum.value, '%Y')] : ''",
                      "tickSize": {"condition": {"test": "month(datum.value) % 4 == 3", "value": 6}, "value": 3.5},
                      "labelOverlap": false, "labelFlush": false, "labelLineHeight": 17, "labelPadding": 1, "titlePadding": 3}},
       "color": {"field": "leg", "type": "nominal", "scale": {"domain": ["GBP", "EUR"], "range": ["#008000", "#ff0000"]},
                 "legend": {"orient": "none", "legendX": 187, "legendY": 6, "title": null, "labelExpr": "'buy leg: ' + datum.label"}}
     }}
  ]
},
{
  "width": 510, "height": 335,
  "encoding": {"y": {"field": "v", "type": "quantitative", "scale": {"domain": [-5, 5], "nice": false, "zero": false}, "axis": {"values": [-4, -2, 0, 2, 4], "title": ["EURtoGBP implied less official", "exchange rate (percentage)"], "titleLineHeight": 18, "labelExpr": "datum.value < 0 ? '\u2212' + abs(datum.value) : '' + datum.value", "tickSize": 5, "labelPadding": 3, "titlePadding": 3}}},
  "layer": [
    {"data": {"values": [{"v": 0}]}, "mark": {"type": "rule", "color": "#808080", "strokeWidth": 1.5}, "encoding": {}},
    {"data": {"name": "right", "format": {"parse": {"t": "date:'%Y-%m-%d'"}}},
     "mark": {"type": "circle", "size": 9, "opacity": 1},
     "encoding": {
       "x": {"field": "t", "type": "temporal", "scale": {"domain": [{"year": 2011, "month": 9, "date": 10}, {"year": 2013, "month": 4, "date": 27}], "nice": false},
             "axis": {"title": "Time", "values": [{"year":2011,"month":10,"date":1},{"year":2011,"month":11,"date":1},{"year":2011,"month":12,"date":1},{"year":2012,"month":1,"date":1},{"year":2012,"month":2,"date":1},{"year":2012,"month":3,"date":1},{"year":2012,"month":4,"date":1},{"year":2012,"month":5,"date":1},{"year":2012,"month":6,"date":1},{"year":2012,"month":7,"date":1},{"year":2012,"month":8,"date":1},{"year":2012,"month":9,"date":1},{"year":2012,"month":10,"date":1},{"year":2012,"month":11,"date":1},{"year":2012,"month":12,"date":1},{"year":2013,"month":1,"date":1},{"year":2013,"month":2,"date":1},{"year":2013,"month":3,"date":1},{"year":2013,"month":4,"date":1}],
                      "labelExpr": "month(datum.value) % 4 == 3 ? [timeFormat(datum.value, '%b'), timeFormat(datum.value, '%Y')] : ''",
                      "tickSize": {"condition": {"test": "month(datum.value) % 4 == 3", "value": 6}, "value": 3.5},
                      "labelOverlap": false, "labelFlush": false, "labelLineHeight": 17, "labelPadding": 1, "titlePadding": 3}},
       "color": {"field": "leg", "type": "nominal", "scale": {"domain": ["GBP", "EUR"], "range": ["#008000", "#ff0000"]},
                 "legend": {"orient": "none", "legendX": 188, "legendY": 6, "title": null, "labelExpr": "'buy leg: ' + datum.label"}}
     }}
  ]
}
]
}
